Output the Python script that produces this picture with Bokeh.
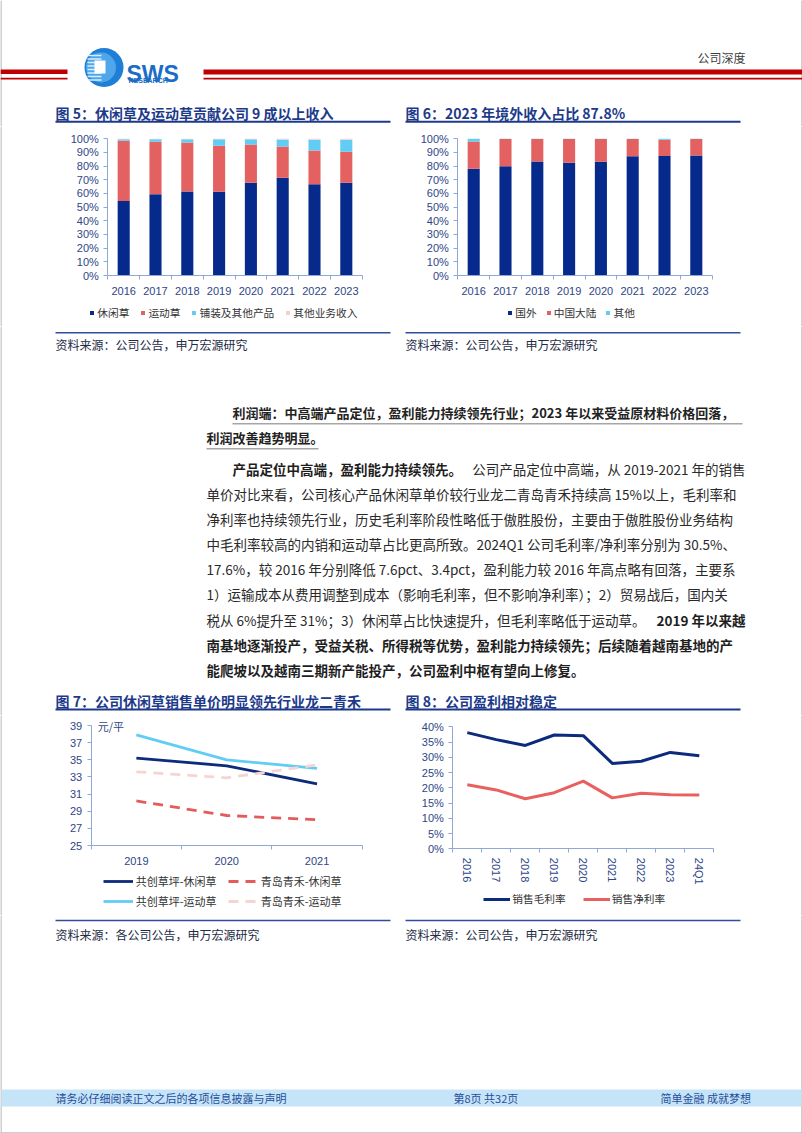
from bokeh.plotting import figure
from bokeh.models import (Range1d, Label, Legend, LegendItem, FixedTicker,
                          PrintfTickFormatter, ColumnDataSource, Span)
from bokeh.layouts import column, row
from bokeh.embed import file_html
from bokeh.resources import INLINE

CJK = "Noto Sans CJK SC"
LAT = "Liberation Sans"

# ---------------- data ----------------
bar_years = ["2016", "2017", "2018", "2019", "2020", "2021", "2022", "2023"]
leisure_grass = [54.5, 59.4, 61.5, 61.3, 67.9, 71.5, 66.8, 67.8]
sports_grass = [44.0, 38.4, 35.8, 33.6, 27.9, 22.9, 24.7, 22.7]
paving_other = [1.2, 1.9, 2.4, 4.8, 3.9, 5.1, 7.8, 8.8]
other_business = [0.3, 0.3, 0.3, 0.3, 0.3, 0.5, 0.7, 0.7]
fig5_names = ["休闲草", "运动草", "铺装及其他产品", "其他业务收入"]

overseas = [78.0, 80.0, 83.4, 82.4, 83.2, 87.3, 87.4, 87.8]
mainland = [20.0, 19.9, 16.5, 17.5, 16.7, 12.6, 11.9, 12.1]
other_region = [2.0, 0.1, 0.1, 0.1, 0.1, 0.1, 0.7, 0.1]
fig6_names = ["国外", "中国大陆", "其他"]
pct_ticks = [0, 10, 20, 30, 40, 50, 60, 70, 80, 90, 100]

price_years = ["2019", "2020", "2021"]
gc_leisure = [35.2, 34.3, 32.2]
qh_leisure = [30.2, 28.5, 28.0]
gc_sports = [37.9, 35.0, 34.0]
qh_sports = [33.6, 32.9, 34.4]
fig7_names = ["共创草坪-休闲草", "青岛青禾-休闲草", "共创草坪-运动草", "青岛青禾-运动草"]
price_ticks = [25, 27, 29, 31, 33, 35, 37, 39]

margin_periods = ["2016", "2017", "2018", "2019", "2020", "2021", "2022", "2023", "24Q1"]
gross_margin = [38.1, 35.8, 33.9, 37.3, 37.1, 28.0, 28.7, 31.6, 30.5]
net_margin = [21.0, 19.3, 16.4, 18.4, 22.2, 16.7, 18.2, 17.7, 17.6]
fig8_names = ["销售毛利率", "销售净利率"]
margin_ticks = [0, 5, 10, 15, 20, 25, 30, 35, 40]

# ---------------- styles ----------------
NAVY = "#06298C"
RED = "#E46161"
CYAN = "#62CDF4"
PINK = "#F6D0CE"
AXIS = "#8FA8D8"
TICK = "#2E4686"
TITLE = "#1D3A8A"
TXT = "#333333"
SRC = "#222A44"
PARA = "#2A2A2A"
EDGE = "#A0A0A0"


def put(p, x, y, s, size, color, bold=False, font=CJK, align="left", baseline="middle"):
    p.add_layout(Label(x=x, y=y, text=s, text_font=font, text_font_size=f"{size}px",
                       text_color=color, text_font_style="bold" if bold else "normal",
                       text_align=align, text_baseline=baseline))


def rect(p, l, r, t, b, color):
    p.quad(left=[l], right=[r], top=[t], bottom=[b], fill_color=color, line_color=None)


def band(y0, h):
    p = figure(width=802, height=h, x_range=Range1d(0, 802), y_range=Range1d(y0 + h, y0),
               x_axis_type=None, y_axis_type=None, output_backend="svg",
               toolbar_location=None, min_border=0)
    p.outline_line_color = None
    rect(p, 0, 1, y0, y0 + h, EDGE)
    rect(p, 801, 802, y0, y0 + h, EDGE)
    return p


def span_range(d0, p0, d1, p1, f0, f1):
    """data range whose ends fall on figure edges f0/f1 when d0->p0 and d1->p1 (pixels)."""
    k = (p1 - p0) / (d1 - d0)
    return Range1d(d0 + (f0 - p0) / k, d0 + (f1 - p0) / k)


def chart(fx, fy, xmap, ymap):
    """figure of 401x200 placed at page (fx, fy); frame covers the whole figure."""
    xr = span_range(xmap[0], xmap[1] - fx, xmap[2], xmap[3] - fx, 0, 401)
    yr = span_range(ymap[0], fy + 200 - ymap[1], ymap[2], fy + 200 - ymap[3], 0, 200)
    p = figure(width=401, height=200, x_range=xr, y_range=yr, output_backend="svg",
               toolbar_location=None, min_border=0)
    p.xaxis.fixed_location = ymap[0]
    p.yaxis.fixed_location = xmap[0]
    p.xaxis.bounds = (xmap[0], xmap[2])
    p.yaxis.bounds = (ymap[0], ymap[2])
    for ax in p.axis:
        ax.axis_line_color = AXIS
        ax.major_tick_line_color = AXIS
        ax.minor_tick_line_color = AXIS
        ax.major_label_text_font = LAT
        ax.major_label_text_font_size = "11px"
        ax.major_label_text_color = TICK
        ax.major_tick_in = 0
        ax.minor_tick_in = 0
    p.xgrid.visible = False
    p.ygrid.visible = False
    p.outline_line_color = None
    edge_x = 0.5 if fx == 0 else 400.5
    p.add_layout(Span(location=edge_x, location_units="screen", dimension="height",
                      line_color=EDGE, line_width=1))
    return p


def cat_axis(p, cats):
    centers = [i + 0.5 for i in range(len(cats))]
    p.xaxis.ticker = FixedTicker(ticks=centers, minor_ticks=list(range(len(cats) + 1)))
    p.xaxis.major_label_overrides = {c: lab for c, lab in zip(centers, cats)}
    p.xaxis.major_tick_out = 0
    p.xaxis.minor_tick_out = 4
    p.xaxis.major_label_standoff = 7
    return centers


def value_axis(p, ticks, fmt):
    p.yaxis.ticker = FixedTicker(ticks=ticks, minor_ticks=[])
    p.yaxis.formatter = PrintfTickFormatter(format=fmt)
    p.yaxis.major_tick_out = 4


def legend(p, items, loc, gw, gh, standoff, spacing, fs="10.7px", **kw):
    leg = Legend(items=items, location=loc, orientation="horizontal",
                 glyph_width=gw, glyph_height=gh, label_standoff=standoff,
                 spacing=spacing, padding=0, margin=0, label_height=12,
                 label_text_font=CJK, label_text_font_size=fs, label_text_color=TXT,
                 border_line_color=None, background_fill_alpha=0, **kw)
    p.add_layout(leg)


def bar_chart(fx, series, names, colors, axis_left, axis_right, leg_loc, leg_spacing):
    n = len(bar_years)
    p = chart(fx, 126, (0, axis_left, n, axis_right), (0, 275, 100, 138.3))
    centers = cat_axis(p, bar_years)
    value_axis(p, pct_ticks, "%d%%")
    data = {"x": centers}
    keys = []
    for i, s in enumerate(series):
        data[f"s{i}"] = s
        keys.append(f"s{i}")
    src = ColumnDataSource(data)
    rs = p.vbar_stack(keys, x="x", width=0.38, color=colors, line_color=None, source=src)
    items = [LegendItem(label=nm, renderers=[r]) for nm, r in zip(names, rs)]
    legend(p, items, leg_loc, 5, 5, 3, leg_spacing)
    return p


# ---------------- header band (0-126) ----------------
top = band(0, 126)
rect(top, 0, 67, 69, 73.5, "#C00000")
rect(top, 0, 67, 77.3, 79, "#C00000")
rect(top, 203, 802, 69, 74, "#C00000")
rect(top, 203, 802, 77.3, 79, "#C00000")
top.circle(x=[103.5], y=[67], radius=19.5, fill_color="#1F7FD6", line_color=None)
top.circle(x=[100.5], y=[67], radius=15, fill_color="#4FA6EA", line_color=None)
for yy in [55, 58.5, 62, 65.5, 69, 72.5, 76, 79.5]:
    top.segment(x0=[87], y0=[yy], x1=[101], y1=[yy], line_color="#D6EEFC", line_width=1.3)
rect(top, 94, 105, 60, 73, "#FFFFFF")
put(top, 126, 73, "SWS", 23, "#1A6DC6", bold=True, font=LAT, baseline="alphabetic")
put(top, 128, 80, "RESEARCH", 7, "#1A6DC6", bold=True, font=LAT, baseline="alphabetic")
put(top, 697, 57, "公司深度", 12, "#404040")
put(top, 55, 112, "图 5：休闲草及运动草贡献公司 9 成以上收入", 14, TITLE, bold=True)
put(top, 405, 112, "图 6：2023 年境外收入占比 87.8%", 14, TITLE, bold=True)
rect(top, 55, 390, 120.3, 122.3, TITLE)
rect(top, 405, 740, 120.3, 122.3, TITLE)

# ---------------- row 1 charts (126-326) ----------------
fig5 = bar_chart(0, [leisure_grass, sports_grass, paving_other, other_business], fig5_names,
                 [NAVY, RED, CYAN, PINK], 107.3, 361.7, (89.3, 6), 11)
fig6 = bar_chart(401, [overseas, mainland, other_region], fig6_names,
                 [NAVY, RED, CYAN], 457.3, 711.7, (106.3, 6), 9)

# ---------------- middle band (326-715) ----------------
mid = band(326, 389)
rect(mid, 55, 390, 331.6, 333, "#2F4E9E")
rect(mid, 405, 740, 331.6, 333, "#2F4E9E")
put(mid, 55, 344, "资料来源：公司公告，申万宏源研究", 12, SRC)
put(mid, 405, 344, "资料来源：公司公告，申万宏源研究", 12, SRC)

put(mid, 232, 412, "利润端：中高端产品定位，盈利能力持续领先行业；2023 年以来受益原材料价格回落，", 13, "#222222", bold=True)
put(mid, 206, 437, "利润改善趋势明显。", 13, "#222222", bold=True)
rect(mid, 232, 742, 422.5, 424, "#A6A6A6")
rect(mid, 206, 318, 447.5, 449, "#A6A6A6")

FS = 13.5
put(mid, 232, 468, "产品定位中高端，盈利能力持续领先。", FS, "#1E1E1E", bold=True)
put(mid, 745, 468, "公司产品定位中高端，从 2019-2021 年的销售", FS, PARA, align="right")
plain_lines = [
    "单价对比来看，公司核心产品休闲草单价较行业龙二青岛青禾持续高 15%以上，毛利率和",
    "净利率也持续领先行业，历史毛利率阶段性略低于傲胜股份，主要由于傲胜股份业务结构",
    "中毛利率较高的内销和运动草占比更高所致。2024Q1 公司毛利率/净利率分别为 30.5%、",
    "17.6%，较 2016 年分别降低 7.6pct、3.4pct，盈利能力较 2016 年高点略有回落，主要系",
    "1）运输成本从费用调整到成本（影响毛利率，但不影响净利率）；2）贸易战后，国内关",
]
for i, s in enumerate(plain_lines):
    put(mid, 206, 493 + 25.1 * i, s, FS, PARA)
put(mid, 206, 619, "税从 6%提升至 31%；3）休闲草占比快速提升，但毛利率略低于运动草。", FS, PARA)
put(mid, 745, 619, "2019 年以来越", FS, "#1E1E1E", bold=True, align="right")
put(mid, 206, 644, "南基地逐渐投产，受益关税、所得税等优势，盈利能力持续领先；后续随着越南基地的产", FS, "#1E1E1E", bold=True)
put(mid, 206, 669, "能爬坡以及越南三期新产能投产，公司盈利中枢有望向上修复。", FS, "#1E1E1E", bold=True)

put(mid, 55, 700, "图 7：公司休闲草销售单价明显领先行业龙二青禾", 14, TITLE, bold=True)
put(mid, 405, 700, "图 8：公司盈利相对稳定", 14, TITLE, bold=True)
rect(mid, 55, 390, 708, 710, TITLE)
rect(mid, 405, 740, 708, 710, TITLE)

# ---------------- row 2 charts (715-915) ----------------
fig7 = chart(0, 715, (0, 90.7, 3, 361.7), (25, 845, 39, 725))
c7 = cat_axis(fig7, price_years)
value_axis(fig7, price_ticks, "%d")
r1 = fig7.line(c7, gc_leisure, line_color="#0D2B7C", line_width=2.8)
r2 = fig7.line(c7, qh_leisure, line_color="#E35B5B", line_width=2.8, line_dash="10 7")
r3 = fig7.line(c7, gc_sports, line_color=CYAN, line_width=2.8)
r4 = fig7.line(c7, qh_sports, line_color="#F7D4D4", line_width=2.8, line_dash="10 7")
fig7.add_layout(Label(x=0, y=39, x_offset=6.5, text="元/平", text_font=CJK,
                      text_font_size="11px", text_color=TICK, text_baseline="middle"))
legend(fig7, [LegendItem(label=nm, renderers=[r]) for nm, r in zip(fig7_names, [r1, r2, r3, r4])],
       (102.7, 6), 30, 14, 3, 4, fs="11px", ncols=2, label_width=88)

fig8 = chart(401, 715, (0, 452.3, 9, 713.3), (0, 848.3, 40, 726.3))
c8 = cat_axis(fig8, margin_periods)
value_axis(fig8, margin_ticks, "%d%%")
fig8.xaxis.major_label_standoff = 5
fig8.xaxis.major_label_orientation = "vertical"
g1 = fig8.line(c8, gross_margin, line_color="#0D2B7C", line_width=3)
g2 = fig8.line(c8, net_margin, line_color="#E8615F", line_width=3)
legend(fig8, [LegendItem(label=nm, renderers=[r]) for nm, r in zip(fig8_names, [g1, g2])],
       (82.3, 9), 27, 14, 2, 17)

# ---------------- bottom band (915-1133) ----------------
bot = band(915, 218)
rect(bot, 0, 802, 1132, 1133, EDGE)
rect(bot, 55, 390, 919.3, 920.7, "#2F4E9E")
rect(bot, 405, 740, 919.3, 920.7, "#2F4E9E")
put(bot, 55, 934, "资料来源：各公司公告，申万宏源研究", 12, SRC)
put(bot, 405, 934, "资料来源：公司公告，申万宏源研究", 12, SRC)
rect(bot, 1, 801, 1089, 1106, "#C6E4F7")
put(bot, 55, 1097.5, "请务必仔细阅读正文之后的各项信息披露与声明", 11, "#1F4E9C")
put(bot, 453, 1097.5, "第8页 共32页", 11, "#1F4E9C")
put(bot, 660, 1097.5, "简单金融 成就梦想", 11, "#1F4E9C")

page = column(top, row(fig5, fig6), mid, row(fig7, fig8), bot)
open("out.html", "w").write(file_html(page, INLINE))
